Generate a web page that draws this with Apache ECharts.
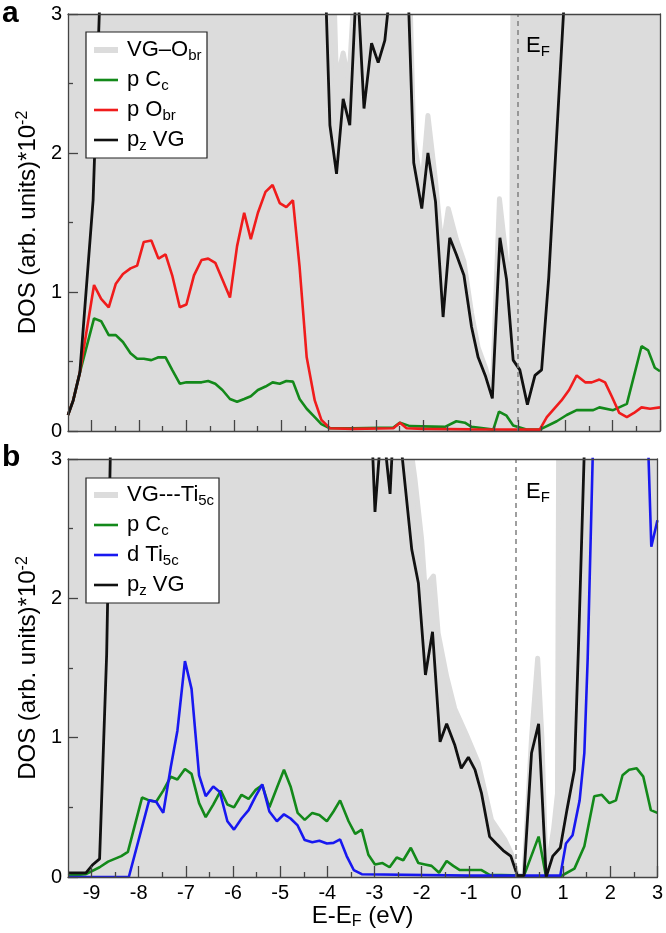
<!DOCTYPE html>
<html>
<head>
<meta charset="utf-8">
<script src="https://cdn.jsdelivr.net/npm/echarts@6/dist/echarts.min.js"></script>
<style>html,body{margin:0;padding:0;background:#fff}#c{width:666px;height:933px}</style>
</head>
<body>
<div id="c"></div>
<script>
// ---------- tick values ----------
const xMajorTicks = [-9,-8,-7,-6,-5,-4,-3,-2,-1,0,1,2,3];
const xMinorTicks = [-8.5,-7.5,-6.5,-5.5,-4.5,-3.5,-2.5,-1.5,-0.5,0.5,1.5,2.5];
const yMajorTicks = [0,1,2,3];
const yMinorTicks = [0.5,1.5,2.5];

// ---------- panel a : VG-O_br ----------
const totalA = [[-9.5,3.6],[-3.92,3.6],[-3.83,2.5],[-3.69,2.72],[-3.57,2.5],[-3.42,3.4],[-3.27,2.8],[-3.1,3.4],[-2.95,2.88],[-2.8,3.4],[-2.3,3.4],[-2.2,2.1],[-2.03,1.75],[-1.9,2.27],[-1.74,1.8],[-1.6,1.3],[-1.47,1.6],[-1.3,1.38],[-1.14,1.22],[-0.98,0.85],[-0.84,0.6],[-0.68,0.45],[-0.54,0.28],[-0.39,1.67],[-0.24,1.22],[-0.13,1.1],[-0.1,3.6],[3.0,3.6]];
const pCcA = [[-9.5,0.115],[-9.39,0.22],[-9.25,0.42],[-8.95,0.81],[-8.8,0.79],[-8.64,0.69],[-8.49,0.69],[-8.34,0.64],[-8.18,0.56],[-8.04,0.52],[-7.9,0.52],[-7.74,0.51],[-7.59,0.53],[-7.44,0.53],[-7.3,0.44],[-7.14,0.34],[-7.0,0.35],[-6.84,0.35],[-6.68,0.35],[-6.54,0.36],[-6.39,0.34],[-6.24,0.295],[-6.08,0.23],[-5.93,0.21],[-5.78,0.23],[-5.64,0.25],[-5.49,0.295],[-5.33,0.32],[-5.18,0.35],[-5.03,0.34],[-4.89,0.36],[-4.75,0.355],[-4.61,0.23],[-4.46,0.16],[-4.29,0.1],[-4.15,0.05],[-3.97,0.02],[-3.5,0.02],[-2.63,0.025],[-2.49,0.06],[-2.28,0.035],[-1.54,0.03],[-1.3,0.07],[-1.12,0.06],[-0.98,0.03],[-0.52,0.01],[-0.4,0.14],[-0.24,0.11],[-0.1,0.04],[0.18,0.01],[0.46,0.01],[0.82,0.07],[1.03,0.115],[1.24,0.15],[1.59,0.15],[1.72,0.17],[2.01,0.15],[2.3,0.195],[2.61,0.61],[2.75,0.58],[2.89,0.455],[3.0,0.43]];
const pObrA = [[-9.5,0.115],[-9.39,0.22],[-9.25,0.42],[-8.95,1.05],[-8.8,0.95],[-8.64,0.89],[-8.49,1.06],[-8.34,1.13],[-8.18,1.17],[-8.04,1.19],[-7.9,1.36],[-7.74,1.37],[-7.59,1.24],[-7.44,1.27],[-7.3,1.12],[-7.14,0.89],[-7.0,0.91],[-6.84,1.12],[-6.68,1.23],[-6.54,1.24],[-6.39,1.21],[-6.24,1.09],[-6.08,0.96],[-5.93,1.33],[-5.78,1.57],[-5.64,1.38],[-5.49,1.57],[-5.33,1.72],[-5.18,1.77],[-5.03,1.64],[-4.89,1.61],[-4.75,1.66],[-4.61,1.18],[-4.46,0.53],[-4.29,0.22],[-4.15,0.08],[-3.97,0.02],[-3.5,0.015],[-2.63,0.02],[-2.49,0.06],[-2.35,0.02],[-2.0,0.015],[-1.0,0.012],[0.46,0.01],[0.61,0.1],[0.92,0.22],[1.08,0.295],[1.24,0.4],[1.42,0.35],[1.56,0.35],[1.72,0.37],[1.84,0.35],[1.98,0.25],[2.14,0.13],[2.3,0.1],[2.45,0.13],[2.61,0.17],[2.79,0.16],[3.0,0.17]];
const pzVGA = [[-9.5,0.115],[-9.39,0.22],[-9.25,0.42],[-8.97,1.66],[-8.8,3.4],[-8.6,4.0],[-4.2,4.0],[-4.1,3.6],[-3.97,2.2],[-3.83,1.85],[-3.69,2.39],[-3.55,2.2],[-3.4,3.3],[-3.25,2.32],[-3.09,2.79],[-2.95,2.65],[-2.81,2.81],[-2.66,3.3],[-2.35,3.5],[-2.2,1.93],[-2.03,1.6],[-1.9,2.0],[-1.74,1.65],[-1.58,0.82],[-1.44,1.39],[-1.3,1.27],[-1.14,1.12],[-0.98,0.75],[-0.84,0.53],[-0.68,0.39],[-0.54,0.235],[-0.38,1.39],[-0.24,1.09],[-0.1,0.51],[0.04,0.44],[0.2,0.19],[0.36,0.4],[0.5,0.44],[0.65,1.1],[0.97,3.05],[1.1,4.0],[3.0,4.0]];

// ---------- panel b : VG---Ti5c ----------
const totalB = [[-9.5,3.6],[-2.32,3.3],[-2.14,2.85],[-2.0,2.42],[-1.93,2.08],[-1.75,2.16],[-1.65,1.75],[-1.47,1.44],[-1.3,1.21],[-1.05,1.02],[-0.8,0.82],[-0.52,0.41],[-0.24,0.27],[-0.1,0.17],[0.03,0.01],[0.17,0.01],[0.33,1.0],[0.46,1.57],[0.55,1.0],[0.64,0.0],[0.8,0.35],[0.88,0.6],[0.91,3.6],[3.0,3.6]];
const pCcB = [[-9.5,0.01],[-9.12,0.02],[-8.83,0.07],[-8.65,0.11],[-8.51,0.13],[-8.37,0.15],[-8.23,0.18],[-7.93,0.57],[-7.78,0.55],[-7.63,0.54],[-7.48,0.62],[-7.32,0.72],[-7.18,0.7],[-7.02,0.775],[-6.88,0.74],[-6.72,0.53],[-6.58,0.43],[-6.42,0.52],[-6.26,0.62],[-6.12,0.52],[-5.98,0.5],[-5.82,0.59],[-5.67,0.56],[-5.52,0.625],[-5.38,0.66],[-5.23,0.5],[-5.07,0.64],[-4.92,0.77],[-4.78,0.65],[-4.63,0.46],[-4.48,0.41],[-4.32,0.46],[-4.17,0.445],[-4.01,0.4],[-3.87,0.47],[-3.73,0.55],[-3.55,0.4],[-3.41,0.31],[-3.27,0.34],[-3.13,0.16],[-2.99,0.09],[-2.83,0.1],[-2.68,0.07],[-2.53,0.14],[-2.39,0.12],[-2.23,0.21],[-2.07,0.1],[-1.93,0.09],[-1.79,0.08],[-1.63,0.03],[-1.47,0.115],[-1.33,0.08],[-1.19,0.05],[-0.73,0.05],[-0.56,0.015],[0.17,0.01],[0.48,0.29],[0.64,0.0],[0.92,0.0],[1.24,0.06],[1.45,0.22],[1.66,0.58],[1.82,0.59],[1.98,0.53],[2.12,0.55],[2.26,0.73],[2.4,0.77],[2.56,0.78],[2.7,0.72],[2.86,0.48],[3.0,0.46]];
const dTiB = [[-9.5,0.0],[-8.21,0.0],[-7.78,0.55],[-7.63,0.54],[-7.48,0.46],[-7.32,0.79],[-7.18,1.05],[-7.02,1.55],[-6.88,1.35],[-6.72,0.73],[-6.58,0.58],[-6.42,0.65],[-6.28,0.61],[-6.12,0.4],[-5.98,0.34],[-5.82,0.42],[-5.67,0.48],[-5.52,0.58],[-5.38,0.665],[-5.23,0.47],[-5.07,0.4],[-4.92,0.45],[-4.78,0.42],[-4.63,0.37],[-4.48,0.265],[-4.32,0.25],[-4.17,0.26],[-4.01,0.24],[-3.87,0.245],[-3.73,0.27],[-3.59,0.15],[-3.44,0.05],[-3.27,0.02],[-1.0,0.01],[0.94,0.01],[1.06,0.24],[1.2,0.3],[1.35,0.55],[1.45,0.89],[1.52,1.56],[1.7,4.0],[2.72,4.0],[2.87,2.37],[3.0,2.56]];
const pzVGB = [[-9.5,0.03],[-9.12,0.03],[-8.97,0.09],[-8.83,0.13],[-8.68,1.6],[-8.55,4.0],[-3.15,4.0],[-2.99,2.62],[-2.84,3.3],[-2.67,2.75],[-2.56,3.5],[-2.21,2.35],[-2.07,2.11],[-1.92,1.45],[-1.77,1.76],[-1.61,0.97],[-1.47,1.1],[-1.3,0.95],[-1.16,0.78],[-1.01,0.86],[-0.87,0.77],[-0.73,0.6],[-0.56,0.29],[-0.42,0.24],[-0.27,0.19],[-0.11,0.15],[0.03,0.01],[0.17,0.01],[0.33,0.89],[0.48,1.1],[0.64,0.0],[0.78,0.15],[0.94,0.21],[1.08,0.48],[1.24,0.77],[1.33,1.7],[1.47,3.3],[1.6,4.0],[3.0,4.0]];

const FONT = "'Liberation Sans', Arial, Helvetica, sans-serif";
const GREY = '#dcdcdc', GREEN = '#13891a', RED = '#f01c1c', BLUE = '#1818f0', BLACK = '#111111', AX = '#444444';
function richSet(s){
  return {sub:{fontSize:s, fontFamily:FONT, padding:[Math.round(s*0.7),0,0,0], color:'#000'},
          sup:{fontSize:s, fontFamily:FONT, padding:[0,0,Math.round(s*0.7),0], color:'#000'}};
}

const grids = [
  {left:68, top:14, width:592, height:417},
  {left:68, top:459, width:592, height:418}
];

function xAxes(g, showLabels){
  return [
    {gridIndex:g, type:'value', min:-9.5, max:3, position:'bottom', z:10,
     axisLine:{show:true, onZero:false, lineStyle:{color:AX, width:1.3}},
     axisTick:{show:true, inside:true, length:11, customValues:xMajorTicks, lineStyle:{color:AX, width:1.3}},
     axisLabel:showLabels ? {show:true, customValues:xMajorTicks, fontSize:20, fontFamily:FONT, color:'#000', margin:6} : {show:false},
     splitLine:{show:false},
     name: showLabels ? 'E-E{sub|F} (eV)' : '', nameLocation:'middle', nameGap:21,
     nameTextStyle:{fontSize:24, fontFamily:FONT, color:'#000', verticalAlign:'top', rich:richSet(16)}},
    {gridIndex:g, type:'value', min:-9.5, max:3, position:'bottom', z:10,
     axisLine:{show:false, onZero:false},
     axisTick:{show:true, inside:true, length:5, customValues:xMinorTicks, lineStyle:{color:AX, width:1.3}},
     axisLabel:{show:false}, splitLine:{show:false}},
    {gridIndex:g, type:'value', min:-9.5, max:3, position:'top', z:10,
     axisLine:{show:true, onZero:false, lineStyle:{color:AX, width:1.3}},
     axisTick:{show:false}, axisLabel:{show:false}, splitLine:{show:false}}
  ];
}
function yAxes(g){
  return [
    {gridIndex:g, type:'value', min:0, max:3, position:'left', z:10,
     axisLine:{show:true, onZero:false, lineStyle:{color:AX, width:1.3}},
     axisTick:{show:true, inside:true, length:10, customValues:yMajorTicks, lineStyle:{color:AX, width:1.3}},
     axisLabel:{show:true, customValues:yMajorTicks, fontSize:20, fontFamily:FONT, color:'#000', margin:6},
     splitLine:{show:false},
     name:'DOS (arb. units)*10{sup|-2}', nameLocation:'middle', nameRotate:90, nameGap:19,
     nameTextStyle:{fontSize:24, fontFamily:FONT, color:'#000', rich:richSet(16)}},
    {gridIndex:g, type:'value', min:0, max:3, position:'left', z:10,
     axisLine:{show:false, onZero:false},
     axisTick:{show:true, inside:true, length:5, customValues:yMinorTicks, lineStyle:{color:AX, width:1.3}},
     axisLabel:{show:false}, splitLine:{show:false}},
    {gridIndex:g, type:'value', min:0, max:3, position:'right', z:10,
     axisLine:{show:true, onZero:false, lineStyle:{color:AX, width:1.3}},
     axisTick:{show:false}, axisLabel:{show:false}, splitLine:{show:false}}
  ];
}

function lineSeries(name, data, color, width, xi, yi, extra){
  return Object.assign({
    name, type:'line', data, xAxisIndex:xi, yAxisIndex:yi,
    showSymbol:false, symbol:'none', clip:true, silent:true,
    lineStyle:{color, width}, itemStyle:{color}
  }, extra || {});
}
// total DOS: filled region under the curve, drawn through the axis scales
function totalSeries(name, data, xi, yi){
  return {
    name, type:'custom', xAxisIndex:xi, yAxisIndex:yi, clip:true, silent:true,
    dimensions:['x','y'], encode:{x:0, y:1}, data,
    renderItem: function(params, api){
      if (params.dataIndex !== 0) return null;
      const pts = data.map(d => api.coord(d));
      const poly = pts.concat([api.coord([data[data.length-1][0], 0]), api.coord([data[0][0], 0])]);
      return {type:'group', children:[
        {type:'polygon', shape:{points:poly}, style:{fill:GREY, stroke:null}},
        {type:'polyline', shape:{points:pts}, style:{stroke:GREY, lineWidth:5, fill:null, lineJoin:'round'}}
      ]};
    }
  };
}
function efLine(){
  return {silent:true, symbol:'none', label:{show:false},
    lineStyle:{type:[5,4], color:'#808080', width:1.5}, data:[{xAxis:0}]};
}

const series = [
  totalSeries('VG–O_br', totalA, 0, 0),
  lineSeries('p C_c a', pCcA, GREEN, 2.6, 0, 0, {markLine:efLine()}),
  lineSeries('p O_br', pObrA, RED, 2.6, 0, 0),
  lineSeries('p_z VG a', pzVGA, BLACK, 2.8, 0, 0),
  totalSeries('VG---Ti5c', totalB, 3, 3),
  lineSeries('p C_c b', pCcB, GREEN, 2.6, 3, 3, {markLine:efLine()}),
  lineSeries('d Ti5c', dTiB, BLUE, 2.6, 3, 3),
  lineSeries('p_z VG b', pzVGB, BLACK, 2.8, 3, 3)
];

function legendBox(x, y, w, h, rows){
  const els = [{type:'rect', shape:{x, y, width:w, height:h}, style:{fill:'#fff', stroke:'#222', lineWidth:1.2}, z:100}];
  rows.forEach(r => {
    els.push({type:'line', shape:{x1:x+8, y1:r.y, x2:x+32, y2:r.y}, style:{stroke:r.color, lineWidth:r.w}, z:101});
    els.push({type:'text', x:x+41, y:r.y, style:{text:r.text, rich:richSet(15), fontSize:22, fontFamily:FONT, fill:'#000', verticalAlign:'middle', align:'left'}, z:101});
  });
  return els;
}

const graphic = [].concat(
  [{type:'text', x:2, y:14, style:{text:'a', fontSize:30, fontWeight:'bold', fontFamily:FONT, fill:'#000', verticalAlign:'middle'}, z:100},
   {type:'text', x:2, y:458, style:{text:'b', fontSize:30, fontWeight:'bold', fontFamily:FONT, fill:'#000', verticalAlign:'middle'}, z:100},
   {type:'text', x:526, y:46, style:{text:'E{sub|F}', rich:richSet(15), fontSize:22, fontFamily:FONT, fill:'#000', verticalAlign:'middle'}, z:100},
   {type:'text', x:526, y:492, style:{text:'E{sub|F}', rich:richSet(15), fontSize:22, fontFamily:FONT, fill:'#000', verticalAlign:'middle'}, z:100}],
  legendBox(86, 32, 121, 126, [
    {y:50, color:GREY, w:6, text:'VG–O{sub|br}'},
    {y:80, color:GREEN, w:2.6, text:'p C{sub|c}'},
    {y:110, color:RED, w:2.6, text:'p O{sub|br}'},
    {y:140, color:BLACK, w:2.6, text:'p{sub|z} VG'}
  ]),
  legendBox(86, 478, 133, 125, [
    {y:495, color:GREY, w:6, text:'VG---Ti{sub|5c}'},
    {y:525, color:GREEN, w:2.6, text:'p C{sub|c}'},
    {y:555, color:BLUE, w:2.6, text:'d Ti{sub|5c}'},
    {y:585, color:BLACK, w:2.6, text:'p{sub|z} VG'}
  ])
);

const chart = echarts.init(document.getElementById('c'), null, {renderer:'canvas'});
chart.setOption({
  animation:false,
  backgroundColor:'#fff',
  textStyle:{fontFamily:FONT},
  grid: grids,
  xAxis: xAxes(0, false).concat(xAxes(1, true)),
  yAxis: yAxes(0).concat(yAxes(1)),
  series,
  graphic
});
</script>
</body>
</html>
